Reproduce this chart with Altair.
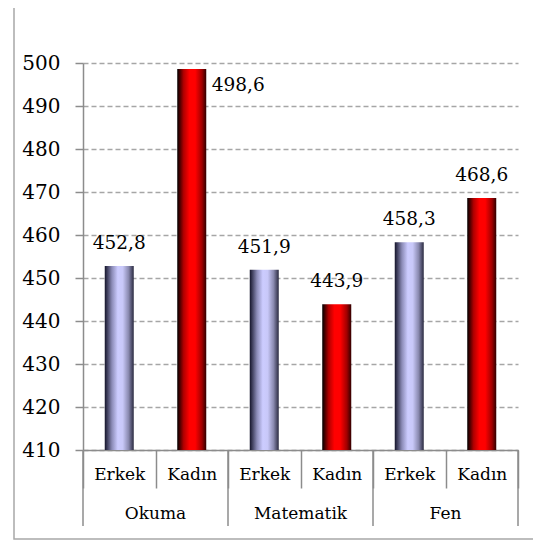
import altair as alt
import pandas as pd

# ---- data ----
subjects = ["Okuma", "Okuma", "Matematik", "Matematik", "Fen", "Fen"]
genders = ["Erkek", "Kadın", "Erkek", "Kadın", "Erkek", "Kadın"]
scores = [452.8, 498.6, 451.9, 443.9, 458.3, 468.6]
y_ticks = [410, 420, 430, 440, 450, 460, 470, 480, 490, 500]
Y_MIN, Y_MAX = 410, 500

df = pd.DataFrame({"subject": subjects, "gender": genders, "score": scores})
df["key"] = df["subject"] + "|" + df["gender"]
keys = df["key"].tolist()

# ---- style ----
W, H = 435, 387
FONT = "DejaVu Serif"
GRAY = "#8c8c8c"
GRID = "#a6a6a6"

erkek_grad = alt.LinearGradient(
    gradient="linear", x1=0, x2=1, y1=0, y2=0,
    stops=[
        alt.GradientStop(color="#14142a", offset=0),
        alt.GradientStop(color="#8c8cb8", offset=0.25),
        alt.GradientStop(color="#ccccff", offset=0.45),
        alt.GradientStop(color="#c8c8f8", offset=0.62),
        alt.GradientStop(color="#8a8ab0", offset=0.82),
        alt.GradientStop(color="#2a2a40", offset=1),
    ],
)
kadin_grad = alt.LinearGradient(
    gradient="linear", x1=0, x2=1, y1=0, y2=0,
    stops=[
        alt.GradientStop(color="#000000", offset=0),
        alt.GradientStop(color="#b00000", offset=0.22),
        alt.GradientStop(color="#ff0000", offset=0.42),
        alt.GradientStop(color="#ff0000", offset=0.62),
        alt.GradientStop(color="#a00000", offset=0.85),
        alt.GradientStop(color="#300000", offset=1),
    ],
)

x_main = alt.X(
    "key:N",
    sort=keys,
    scale=alt.Scale(domain=keys, paddingInner=0, paddingOuter=0),
    axis=alt.Axis(
        title=None,
        labelExpr="split(datum.label, '|')[1]",
        labelAngle=0,
        labelFontSize=17,
        labelColor="black",
        labelBaseline="middle",
        labelPadding=-14,
        tickBand="extent",
        tickSize=38,
        tickColor=GRAY,
        tickWidth=1.5,
        domainColor=GRAY,
        domainWidth=1.5,
        grid=False,
    ),
)
y_main = alt.Y(
    "score:Q",
    scale=alt.Scale(domain=[Y_MIN, Y_MAX], nice=False, zero=False),
    axis=alt.Axis(
        values=y_ticks,
        title=None,
        labelFontSize=20,
        labelColor="black",
        labelPadding=15,
        tickSize=8,
        tickColor=GRAY,
        tickWidth=1.5,
        domainColor=GRAY,
        domainWidth=1.5,
        grid=True,
        gridColor=GRID,
        gridDash=[5, 3],
        gridWidth=1.5,
    ),
)

base = alt.Chart(df)

frame = alt.Chart(pd.DataFrame({"a": [0]})).mark_rect(
    filled=False, stroke="#a8a8a8", strokeWidth=1.5
).encode(
    x=alt.value(-69), x2=alt.value(520), y=alt.value(-61), y2=alt.value(H + 89)
)

bars_e = base.mark_bar(size=29, color=erkek_grad).encode(
    x=x_main, y=y_main, y2=alt.datum(Y_MIN)
).transform_filter(alt.datum.gender == "Erkek")

bars_k = base.mark_bar(size=29, color=kadin_grad).encode(
    x=alt.X("key:N"), y=alt.Y("score:Q"), y2=alt.datum(Y_MIN)
).transform_filter(alt.datum.gender == "Kadın")

labels_top = base.mark_text(
    fontSize=18.5, color="black", baseline="alphabetic", dy=-17
).transform_filter(alt.datum.score < 495).transform_calculate(
    lab="replace(format(datum.score, '.1f'), '.', ',')"
).encode(x=alt.X("key:N"), y=alt.Y("score:Q"), text="lab:N")

labels_side = base.mark_text(
    fontSize=18.5, color="black", baseline="middle", align="left", dx=20, dy=16
).transform_filter(alt.datum.score >= 495).transform_calculate(
    lab="replace(format(datum.score, '.1f'), '.', ',')"
).encode(x=alt.X("key:N"), y=alt.Y("score:Q"), text="lab:N")

group_rules = base.mark_rule(color=GRAY, strokeWidth=1.5).encode(
    x=alt.X("key:N", bandPosition=0), y=alt.value(H), y2=alt.value(H + 76)
).transform_filter(alt.datum.gender == "Erkek")

end_rule = base.mark_rule(color=GRAY, strokeWidth=1.5).encode(
    x=alt.X("key:N", bandPosition=1), y=alt.value(H), y2=alt.value(H + 76)
).transform_filter(alt.datum.key == keys[-1])

group_text = base.mark_text(
    fontSize=17, color="black", baseline="middle"
).encode(
    x=alt.X("key:N", bandPosition=0), y=alt.value(H + 64), text="subject:N"
).transform_filter(alt.datum.gender == "Kadın")

chart = alt.layer(
    bars_e, frame, bars_k, labels_top, labels_side, group_rules, end_rule, group_text
).properties(
    width=W,
    height=H,
    padding={"left": 75, "top": 55, "right": 15, "bottom": 90},
    autosize=alt.AutoSizeParams(type="none"),
).configure(font=FONT).configure_view(stroke=None)

chart.save("out.html", embed_options={"renderer": "svg", "actions": False})
